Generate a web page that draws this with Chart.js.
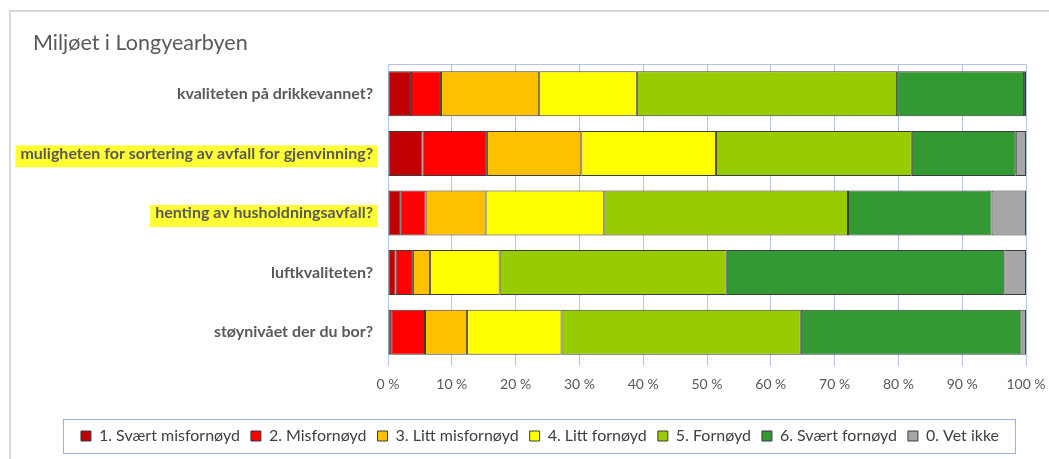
<!DOCTYPE html>
<html>
<head>
<meta charset="utf-8">
<script src="https://cdn.jsdelivr.net/npm/chart.js"></script>
<style>
  html, body { margin: 0; padding: 0; background: #fff; }
  #wrap { width: 1049px; height: 459px; position: relative; }
</style>
</head>
<body>
<div id="wrap"><canvas id="myChart" width="1049" height="459"></canvas></div>
<script>
// categories, top to bottom
const questions = [
  'kvaliteten på drikkevannet?',
  'muligheten for sortering av avfall for gjenvinning?',
  'henting av husholdningsavfall?',
  'luftkvaliteten?',
  'støynivået der du bor?'
];
const highlighted = [1, 2]; // rows marked with yellow in the original
const chartTitle = 'Miljøet i Longyearbyen';

const seriesNames = [
  '1. Svært misfornøyd',
  '2. Misfornøyd',
  '3. Litt misfornøyd',
  '4. Litt fornøyd',
  '5. Fornøyd',
  '6. Svært fornøyd',
  '0. Vet ikke'
];
const seriesColors = ['#c00000', '#ff0000', '#ffc000', '#ffff00', '#99cc00', '#339933', '#a6a6a6'];

// percent per answer, one array per series (same order as questions)
const svaertMisfornoyd = [3.6, 5.4, 2.0, 1.2, 0.5];
const misfornoyd       = [4.7, 10.1, 3.9, 2.7, 5.3];
const littMisfornoyd   = [15.4, 14.8, 9.4, 2.7, 6.6];
const littFornoyd      = [15.3, 21.1, 18.6, 10.9, 14.8];
const fornoyd          = [40.8, 30.7, 38.2, 35.6, 37.5];
const svaertFornoyd    = [19.9, 16.3, 22.5, 43.5, 34.6];
const vetIkke          = [0.3, 1.6, 5.4, 3.4, 0.7];

const xTicks = [0, 10, 20, 30, 40, 50, 60, 70, 80, 90, 100];

const allSeries = [svaertMisfornoyd, misfornoyd, littMisfornoyd, littFornoyd, fornoyd, svaertFornoyd, vetIkke];

const datasets = allSeries.map(function(vals, i) {
  return {
    label: seriesNames[i],
    data: vals,
    backgroundColor: seriesColors[i],
    borderColor: '#3b3b3b',
    borderWidth: 1,
    borderSkipped: false,
    categoryPercentage: 1,
    barPercentage: 0.755
  };
});

const FONT = 'Lato, "Liberation Sans", sans-serif';
const LABEL_SIZE = 16;
const LABEL_PAD = 15;

// frame, title, highlight marker, top line and legend box
const decor = {
  id: 'decor',
  afterLayout: function(chart) {
    // legend sits a bit right of centre in the original
    chart.legend.left += 21;
    chart.legend.right += 21;
  },
  beforeDraw: function(chart) {
    const ctx = chart.ctx;
    ctx.save();
    ctx.strokeStyle = '#d9d9d9';
    ctx.lineWidth = 2;
    ctx.beginPath();
    ctx.moveTo(10, 459);
    ctx.lineTo(10, 11);
    ctx.lineTo(1049, 11);
    ctx.stroke();

    // title (drawn here so the category labels can use the full left side)
    ctx.font = '21.5px ' + FONT;
    ctx.fillStyle = '#595959';
    ctx.textBaseline = 'middle';
    ctx.textAlign = 'left';
    ctx.fillText(chartTitle, 33, 43);

    // yellow marker behind some labels
    const y = chart.scales.y;
    ctx.font = 'bold ' + LABEL_SIZE + 'px ' + FONT;
    ctx.fillStyle = '#ffff33';
    highlighted.forEach(function(idx) {
      const w = ctx.measureText(questions[idx]).width;
      const cy = y.getPixelForValue(idx);
      const textRight = y.right - LABEL_PAD;
      ctx.fillRect(textRight - w - 5, cy - 8, w + 10, 22);
    });

    // top border of plot area
    const a = chart.chartArea;
    ctx.strokeStyle = '#b4c6e7';
    ctx.lineWidth = 1;
    ctx.beginPath();
    ctx.moveTo(a.left, a.top + 0.5);
    ctx.lineTo(a.right, a.top + 0.5);
    ctx.stroke();
    ctx.restore();
  },
  afterDraw: function(chart) {
    const boxes = chart.legend.legendHitBoxes;
    if (!boxes || !boxes.length) return;
    const ctx = chart.ctx;
    let l = Infinity, r = -Infinity, t = Infinity, b = -Infinity;
    boxes.forEach(function(h) {
      l = Math.min(l, h.left); r = Math.max(r, h.left + h.width);
      t = Math.min(t, h.top); b = Math.max(b, h.top + h.height);
    });
    ctx.save();
    ctx.strokeStyle = '#9db3d6';
    ctx.lineWidth = 1;
    ctx.strokeRect(Math.round(l - 18) + 0.5, Math.round(t - 9) + 0.5, Math.round(r - l + 34), Math.round(b - t + 18));
    ctx.restore();
  }
};

const config = {
  type: 'bar',
  data: { labels: questions, datasets: datasets },
  options: {
    indexAxis: 'y',
    responsive: false,
    animation: false,
    layout: { padding: { left: 12, right: 23, top: 64, bottom: 5 } },
    scales: {
      x: {
        stacked: true,
        min: 0,
        max: 100,
        afterBuildTicks: function(s) { s.ticks = xTicks.map(function(v) { return { value: v }; }); },
        grid: { color: '#b4c6e7', drawTicks: true, tickLength: 4 },
        border: { display: false },
        ticks: {
          padding: 10,
          color: '#595959',
          font: { family: FONT, size: 14 },
          callback: function(v) { return v + ' %'; }
        },
        afterFit: function(s) { s.height = 55; s.paddingLeft = 0; s.paddingRight = 0; }
      },
      y: {
        stacked: true,
        grid: { display: false, drawTicks: false },
        border: { display: false },
        ticks: {
          padding: LABEL_PAD,
          color: '#595959',
          font: { family: FONT, size: LABEL_SIZE, weight: 'bold' }
        },
        afterFit: function(s) { s.width = 376; }
      }
    },
    plugins: {
      legend: {
        position: 'bottom',
        labels: {
          boxWidth: 10,
          boxHeight: 10,
          padding: 11,
          color: '#404040',
          font: { family: FONT, size: 16 }
        }
      },
      tooltip: { enabled: false }
    }
  },
  plugins: [decor]
};

const myChart = new Chart(document.getElementById('myChart'), config);
</script>
</body>
</html>
